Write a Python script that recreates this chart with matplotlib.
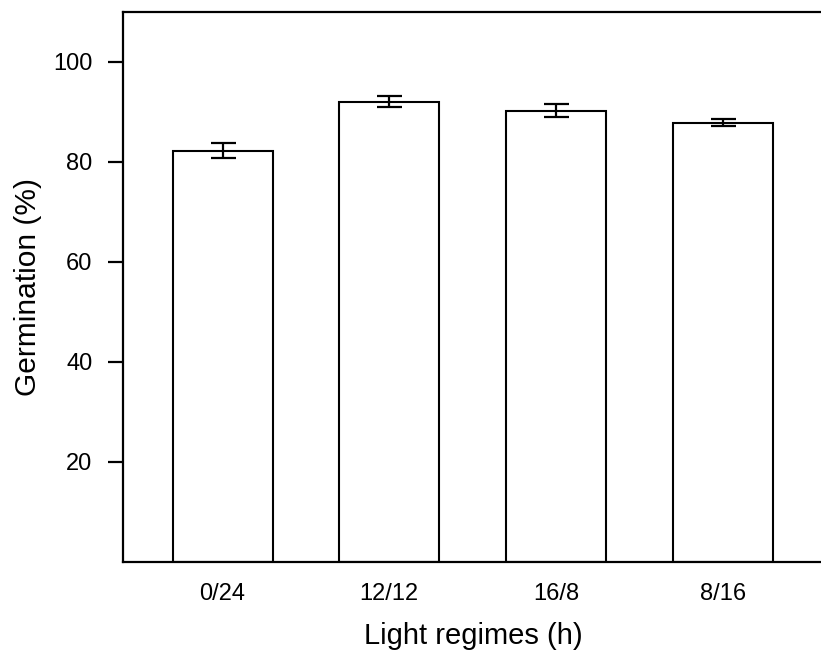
import matplotlib
matplotlib.use("Agg")
import matplotlib.pyplot as plt

categories = ["0/24", "12/12", "16/8", "8/16"]
germination = [82.3, 92.1, 90.3, 87.9]
errors = [1.5, 1.1, 1.35, 0.8]
yticks = [20, 40, 60, 80, 100]

plt.rcParams['font.family'] = ['Liberation Sans', 'DejaVu Sans']

fig = plt.figure(figsize=(8.21, 6.52), dpi=100)
ax = fig.add_axes([123/821, 90/652, 1 - 123/821 + 0.002, (562-12)/652])

x = list(range(len(categories)))
ax.bar(x, germination, width=0.6, color='white', edgecolor='black', linewidth=1.5,
       yerr=errors, capsize=9, error_kw=dict(elinewidth=1.6, capthick=1.6, ecolor='black'))

ax.set_xlim(-0.597, 3.6)
ax.set_ylim(0, 110)
ax.set_yticks(yticks)
ax.set_xticks(x)
ax.set_xticklabels(categories)
ax.tick_params(axis='x', length=0, pad=15, labelsize=17)
ax.tick_params(axis='y', length=11, width=1.6, pad=11, labelsize=17)
ax.spines['right'].set_visible(False)
for s in ['left', 'bottom', 'top']:
    ax.spines[s].set_linewidth(1.6)

ax.set_xlabel("Light regimes (h)", fontsize=21, labelpad=12)
ax.set_ylabel("Germination (%)", fontsize=21.5, labelpad=8)

fig.savefig("out.png", dpi=100)
